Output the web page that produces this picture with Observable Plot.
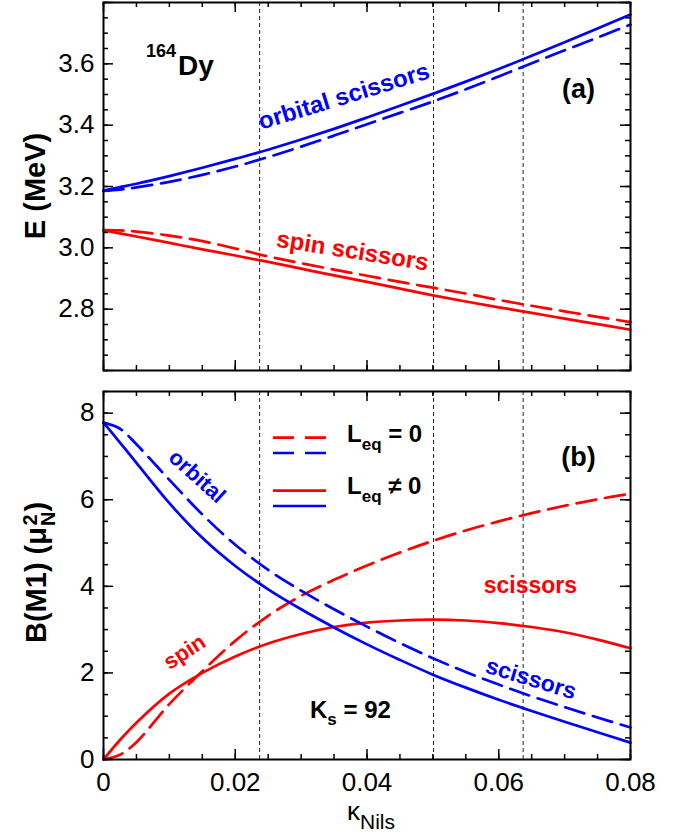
<!DOCTYPE html>
<html><head><meta charset="utf-8">
<script src="https://cdn.jsdelivr.net/npm/d3@7"></script>
<script src="https://cdn.jsdelivr.net/npm/@observablehq/plot@0.6"></script>
<style>
body{margin:0;background:#fff;font-family:"Liberation Sans",Arial,sans-serif;}
#chart{width:689px;height:835px;}
svg{display:block}
</style></head><body><div id="chart"></div>
<script>
// ---------- data ----------
const kappa = [0, 0.0025, 0.005, 0.01, 0.015, 0.02, 0.025, 0.03, 0.035, 0.04, 0.045, 0.05, 0.055, 0.06, 0.065, 0.07, 0.075, 0.08];
// (a) energies, MeV
const eOrbLeq   = [3.187, 3.198, 3.209, 3.234, 3.261, 3.290, 3.320, 3.353, 3.388, 3.425, 3.463, 3.502, 3.542, 3.583, 3.626, 3.670, 3.715, 3.761];
const eOrbNoLeq = [3.186, 3.190, 3.197, 3.215, 3.238, 3.265, 3.296, 3.330, 3.366, 3.403, 3.440, 3.477, 3.517, 3.559, 3.602, 3.644, 3.686, 3.728];
const eSpinLeq  = [3.057, 3.047, 3.037, 3.016, 2.995, 2.975, 2.954, 2.932, 2.910, 2.889, 2.867, 2.845, 2.825, 2.806, 2.788, 2.769, 2.751, 2.733];
const eSpinNoLeq= [3.058, 3.057, 3.053, 3.040, 3.022, 2.998, 2.972, 2.950, 2.929, 2.909, 2.889, 2.870, 2.851, 2.830, 2.811, 2.793, 2.775, 2.758];
// (b) B(M1), mu_N^2
const bOrbLeq   = [7.78, 7.32, 6.85, 5.92, 5.12, 4.47, 3.93, 3.47, 3.05, 2.66, 2.30, 1.96, 1.66, 1.38, 1.12, 0.87, 0.63, 0.39];
const bOrbNoLeq = [7.78, 7.64, 7.28, 6.46, 5.66, 4.96, 4.38, 3.90, 3.47, 3.07, 2.69, 2.34, 2.02, 1.73, 1.46, 1.21, 0.97, 0.74];
const bSpinLeq  = [0, 0.45, 0.85, 1.52, 2.00, 2.38, 2.68, 2.90, 3.06, 3.16, 3.21, 3.23, 3.21, 3.15, 3.06, 2.94, 2.77, 2.57];
const bSpinNoLeq= [0, 0.11, 0.40, 1.28, 2.04, 2.74, 3.32, 3.78, 4.15, 4.48, 4.78, 5.05, 5.29, 5.50, 5.69, 5.86, 6.01, 6.14];
// reference kappa values (vertical dashed lines)
const refKappa = [0.0237, 0.0501, 0.0637];
// tick labels
const xTickLabels = [0, 0.02, 0.04, 0.06, 0.08];
const eTickLabels = [2.8, 3.0, 3.2, 3.4, 3.6];
const bTickLabels = [0, 2, 4, 6, 8];

// ---------- layout ----------
const W = 689, ML = 103, MR = 59;
const FW = W - ML - MR;
const topH = 385, topMT = 2, topMB = 15;
const botH = 450, botMT = 6, botMB = 76;
const FH = 368;
const RED = "#ff0000", BLUE = "#0000ff";
const FONT = "Liberation Sans, Arial, sans-serif";

const rows = vals => kappa.map((k, i) => ({k, v: vals[i]}));
const xMinor = d3.range(0, 0.08001, 0.005);
const xMajor = d3.range(0, 0.08001, 0.02);

function curve(vals, color, dashed) {
  return Plot.line(rows(vals), {x: "k", y: "v", stroke: color, strokeWidth: 2.7,
    strokeDasharray: dashed ? "20,9" : null, curve: "catmull-rom"});
}
function frameTicks(yMinor, yMajor) {
  const s = {stroke: "black", strokeWidth: 1.5};
  return [
    Plot.tickX(xMinor, {x: d => d, insetTop: FH - 5, ...s}),
    Plot.tickX(xMinor, {x: d => d, insetBottom: FH - 5, ...s}),
    Plot.tickX(xMajor, {x: d => d, insetTop: FH - 10, ...s}),
    Plot.tickX(xMajor, {x: d => d, insetBottom: FH - 10, ...s}),
    Plot.tickY(yMinor, {y: d => d, insetRight: FW - 5, ...s}),
    Plot.tickY(yMinor, {y: d => d, insetLeft: FW - 5, ...s}),
    Plot.tickY(yMajor, {y: d => d, insetRight: FW - 10, ...s}),
    Plot.tickY(yMajor, {y: d => d, insetLeft: FW - 10, ...s})
  ];
}
const refRules = () => Plot.ruleX(refKappa, {x: d => d, stroke: "#222", strokeWidth: 1, strokeDasharray: "4,3"});
const ann = (t, x, y, color, rotate = 0, size = 23) =>
  Plot.text([t], {x: () => x, y: () => y, text: d => d, fill: color, rotate, fontSize: size,
    fontWeight: "bold", textAnchor: "middle", lineAnchor: "middle", fontFamily: FONT});

const style = {fontFamily: FONT, fontSize: "26px", color: "black", background: "white", overflow: "visible"};

// ---------- panel (a) ----------
const panelA = Plot.plot({
  width: W, height: topH, marginLeft: ML, marginRight: MR, marginTop: topMT, marginBottom: topMB,
  style,
  x: {domain: [0, 0.08], axis: null},
  y: {domain: [2.6, 3.8]},
  marks: [
    refRules(),
    curve(eSpinNoLeq, RED, true),
    curve(eSpinLeq, RED, false),
    curve(eOrbNoLeq, BLUE, true),
    curve(eOrbLeq, BLUE, false),
    ...frameTicks(d3.range(2.6, 3.8001, 0.05), d3.range(2.6, 3.8001, 0.2)),
    Plot.frame({stroke: "black", strokeWidth: 2}),
    Plot.axisY({ticks: eTickLabels, tickSize: 0, tickPadding: 9, tickFormat: d3.format(".1f"), fontSize: 26, label: null}),
    ann("orbital scissors", 0.0365, 3.4935, BLUE, -17, 24),
    ann("spin scissors", 0.0378, 2.99, RED, 9, 24),
    ann("(a)", 0.0721, 3.518, "black", 0, 27)
  ]
});

// ---------- panel (b) ----------
const panelB = Plot.plot({
  width: W, height: botH, marginLeft: ML, marginRight: MR, marginTop: botMT, marginBottom: botMB,
  style,
  x: {domain: [0, 0.08]},
  y: {domain: [0, 8.5]},
  marks: [
    refRules(),
    curve(bSpinNoLeq, RED, true),
    curve(bSpinLeq, RED, false),
    curve(bOrbNoLeq, BLUE, true),
    curve(bOrbLeq, BLUE, false),
    ...frameTicks(d3.range(0, 8.5001, 0.5), d3.range(0, 8.5001, 2)),
    Plot.frame({stroke: "black", strokeWidth: 2}),
    Plot.axisY({ticks: bTickLabels, tickSize: 0, tickPadding: 9, tickFormat: d3.format("d"), fontSize: 26, label: null}),
    Plot.axisX({ticks: xTickLabels, tickSize: 0, tickPadding: 13, tickFormat: d => d === 0 ? "0" : d.toFixed(2), fontSize: 26, label: null}),
    ann("orbital", 0.0142, 6.537, BLUE, 42, 22),
    ann("spin", 0.0123, 2.483, RED, -33, 22),
    ann("scissors", 0.0648, 4.02, RED, 0),
    ann("scissors", 0.0649, 1.864, BLUE, 17),
    ann("(b)", 0.0721, 6.987, "black", 0, 27)
  ]
});

const chart = document.getElementById("chart");
chart.appendChild(panelA);
chart.appendChild(panelB);

// ---------- rich text helpers ----------
function rich(svg, x, y, parts, {anchor = "start", weight = "bold", fill = "black", rotate = 0} = {}) {
  const t = d3.select(svg).append("text").attr("x", x).attr("y", y)
    .attr("text-anchor", anchor).attr("font-weight", weight).attr("fill", fill)
    .attr("font-family", FONT);
  if (rotate) t.attr("transform", `rotate(${rotate},${x},${y})`);
  let prev = 0;
  for (const p of parts) {
    const ts = t.append("tspan").attr("font-size", p.size).text(p.t);
    const off = p.dy || 0;
    if (off - prev) ts.attr("dy", off - prev);
    prev = off;
    if (p.dx) ts.attr("dx", p.dx);
    if (p.weight) ts.attr("font-weight", p.weight);
  }
  return t;
}

// panel (a) texts
rich(panelA, 146, 75, [{t: "164", size: 18, dy: -18}, {t: "Dy", size: 28, dy: 0, dx: 2}]);
rich(panelA, 45, 186, [{t: "E (MeV)", size: 29}], {anchor: "middle", rotate: -90});

// panel (b) texts (local coords: svg top at y=385)
rich(panelB, 46, 643 - 385, [
  {t: "B(M1) (\u03bc", size: 29},
  {t: "N", size: 20, dy: 9, dx: 1},
  {t: "2", size: 20, dy: -9, dx: -14},
  {t: ")", size: 29, dy: 0, dx: 3}
], {rotate: -90});
rich(panelB, 347, 820 - 385, [{t: "\u03ba", size: 26}, {t: "Nils", size: 21, dy: 9}], {weight: "normal"});
rich(panelB, 310, 718 - 385, [{t: "K", size: 24}, {t: "s", size: 17, dy: 7}, {t: " = 92", size: 24, dy: 0}]);

// legend
const lg = d3.select(panelB).append("g");
const legendRows = [
  {y: 437.7, c: RED, dash: "21,11"}, {y: 453, c: BLUE, dash: "21,11"},
  {y: 490.7, c: RED, dash: null}, {y: 506, c: BLUE, dash: null}
];
for (const r of legendRows) {
  lg.append("line").attr("x1", 273).attr("x2", 326).attr("y1", r.y - 385).attr("y2", r.y - 385)
    .attr("stroke", r.c).attr("stroke-width", 2.7).attr("stroke-dasharray", r.dash);
}
rich(panelB, 347, 442 - 385, [{t: "L", size: 24}, {t: "eq", size: 17, dy: 8}, {t: " = 0", size: 24, dy: 0}]);
rich(panelB, 347, 494 - 385, [{t: "L", size: 24}, {t: "eq", size: 17, dy: 8}, {t: " \u2260 0", size: 24, dy: 0}]);
</script>
</body></html>
